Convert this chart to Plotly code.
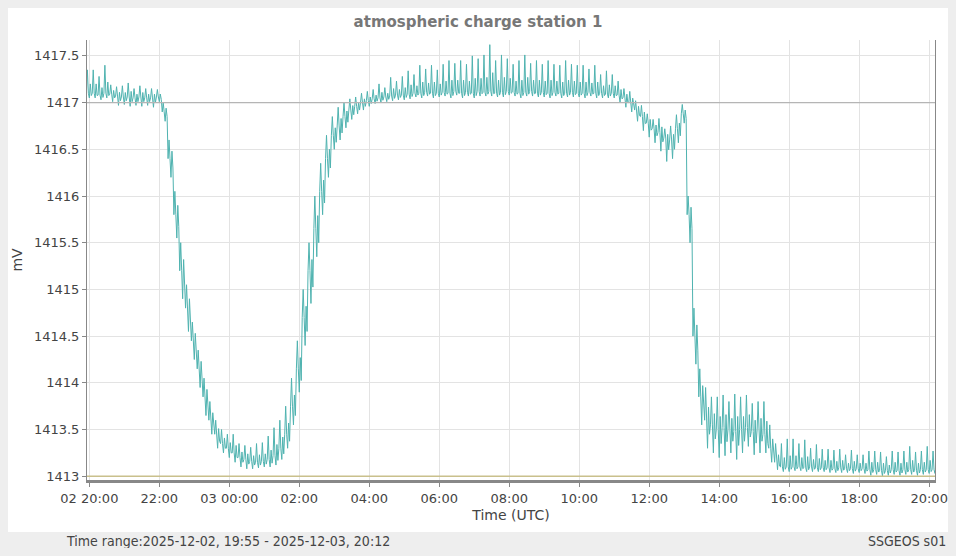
import pandas as pd
import plotly.graph_objects as go

# ===================== 数据 =====================
START = "2025-12-02 19:55"
# 每10分钟一个基准值 (19:55 起)
base_mv = (
    [1417.1]
    + [1417.1, 1417.08, 1417.1, 1417.09, 1417.07, 1417.06]          # 20h
    + [1417.06, 1417.05, 1417.06, 1417.05, 1417.05, 1417.06]        # 21h
    + [1416.9, 1416.4, 1415.8, 1415.2, 1414.8, 1414.45]             # 22h
    + [1414.15, 1413.85, 1413.6, 1413.45, 1413.35, 1413.3]          # 23h
    + [1413.25, 1413.2, 1413.18, 1413.16, 1413.15, 1413.16]         # 00h
    + [1413.18, 1413.22, 1413.3, 1413.45, 1413.75, 1414.15]         # 01h
    + [1414.7, 1415.2, 1415.65, 1416.05, 1416.4, 1416.65]           # 02h
    + [1416.75, 1416.85, 1416.92, 1416.96, 1417.0, 1417.02]         # 03h
    + [1417.04, 1417.05, 1417.06, 1417.07, 1417.08, 1417.08]        # 04h
    + [1417.09, 1417.1, 1417.1, 1417.11, 1417.1, 1417.1]            # 05h
    + [1417.11, 1417.1, 1417.12, 1417.1, 1417.11, 1417.1]           # 06h
    + [1417.12, 1417.11, 1417.12, 1417.1, 1417.11, 1417.12]         # 07h
    + [1417.11, 1417.1, 1417.11, 1417.12, 1417.1, 1417.11]          # 08h
    + [1417.1, 1417.11, 1417.1, 1417.1, 1417.11, 1417.1]            # 09h
    + [1417.1, 1417.11, 1417.1, 1417.1, 1417.09, 1417.1]            # 10h
    + [1417.08, 1417.05, 1417.0, 1416.92, 1416.85, 1416.78]         # 11h
    + [1416.72, 1416.68, 1416.62, 1416.6, 1416.72, 1416.88]         # 12h
    + [1415.8, 1414.5, 1413.85, 1413.6, 1413.55, 1413.5]            # 13h
    + [1413.52, 1413.5, 1413.48, 1413.5, 1413.52, 1413.48]          # 14h
    + [1413.5, 1413.45, 1413.3, 1413.15, 1413.1, 1413.1]            # 15h
    + [1413.1, 1413.1, 1413.09, 1413.1, 1413.09, 1413.09]           # 16h
    + [1413.09, 1413.08, 1413.09, 1413.08, 1413.08, 1413.08]        # 17h
    + [1413.08, 1413.07, 1413.07, 1413.06, 1413.06, 1413.07]        # 18h
    + [1413.06, 1413.07, 1413.07, 1413.06, 1413.07, 1413.07]        # 19h
    + [1413.07]
)
# 向上尖峰幅度
up_mv = (
    [0.25]
    + [0.25, 0.2, 0.3, 0.1, 0.1, 0.12]
    + [0.15, 0.1, 0.12, 0.1, 0.1, 0.08]
    + [0.1, 0.2, 0.25, 0.3, 0.25, 0.2]
    + [0.2, 0.2, 0.2, 0.15, 0.15, 0.15]
    + [0.2, 0.15, 0.15, 0.15, 0.2, 0.2]
    + [0.25, 0.3, 0.3, 0.3, 0.3, 0.3]
    + [0.3, 0.3, 0.35, 0.3, 0.25, 0.2]
    + [0.2, 0.15, 0.12, 0.1, 0.1, 0.1]
    + [0.1, 0.15, 0.1, 0.2, 0.15, 0.2]
    + [0.25, 0.2, 0.3, 0.25, 0.3, 0.25]
    + [0.3, 0.35, 0.3, 0.35, 0.3, 0.4]
    + [0.35, 0.4, 0.5, 0.35, 0.4, 0.35]
    + [0.3, 0.35, 0.4, 0.3, 0.35, 0.3]
    + [0.35, 0.3, 0.3, 0.35, 0.3, 0.3]
    + [0.3, 0.25, 0.3, 0.2, 0.25, 0.2]
    + [0.15, 0.1, 0.12, 0.1, 0.12, 0.1]
    + [0.1, 0.15, 0.1, 0.15, 0.15, 0.1]
    + [0.2, 0.3, 0.3, 0.35, 0.3, 0.35]
    + [0.35, 0.3, 0.4, 0.35, 0.35, 0.3]
    + [0.3, 0.35, 0.25, 0.2, 0.25, 0.3]
    + [0.3, 0.25, 0.3, 0.2, 0.25, 0.2]
    + [0.2, 0.2, 0.2, 0.15, 0.2, 0.15]
    + [0.15, 0.2, 0.2, 0.2, 0.15, 0.2]
    + [0.2, 0.2, 0.25, 0.2, 0.2, 0.25]
    + [0.2]
)
# 向下尖峰幅度
down_mv = (
    [0.05]
    + [0.05, 0.05, 0.05, 0.08, 0.1, 0.08]
    + [0.1, 0.08, 0.1, 0.08, 0.1, 0.05]
    + [0.1, 0.2, 0.25, 0.3, 0.25, 0.2]
    + [0.2, 0.2, 0.15, 0.15, 0.1, 0.1]
    + [0.1, 0.1, 0.1, 0.08, 0.06, 0.06]
    + [0.08, 0.1, 0.12, 0.15, 0.2, 0.25]
    + [0.3, 0.35, 0.3, 0.25, 0.2, 0.15]
    + [0.15, 0.12, 0.1, 0.08, 0.08, 0.06]
    + [0.05, 0.05, 0.05, 0.05, 0.05, 0.05]
    + [0.05, 0.04, 0.05, 0.04, 0.05, 0.04]
    + [0.04, 0.05, 0.04, 0.05, 0.04, 0.05]
    + [0.05, 0.04, 0.05, 0.04, 0.05, 0.04]
    + [0.04, 0.05, 0.04, 0.05, 0.04, 0.05]
    + [0.05, 0.04, 0.05, 0.04, 0.05, 0.04]
    + [0.05, 0.04, 0.05, 0.05, 0.04, 0.05]
    + [0.08, 0.1, 0.1, 0.12, 0.15, 0.15]
    + [0.15, 0.2, 0.25, 0.2, 0.15, 0.1]
    + [0.3, 0.3, 0.3, 0.3, 0.3, 0.3]
    + [0.3, 0.25, 0.3, 0.25, 0.2, 0.25]
    + [0.25, 0.2, 0.15, 0.08, 0.05, 0.05]
    + [0.04, 0.04, 0.04, 0.05, 0.04, 0.04]
    + [0.05, 0.04, 0.05, 0.04, 0.05, 0.04]
    + [0.05, 0.06, 0.05, 0.06, 0.05, 0.05]
    + [0.05, 0.05, 0.05, 0.05, 0.05, 0.04]
    + [0.04]
)

tick_vals = ["2025-12-02 20:00", "2025-12-02 22:00", "2025-12-03 00:00", "2025-12-03 02:00",
             "2025-12-03 04:00", "2025-12-03 06:00", "2025-12-03 08:00", "2025-12-03 10:00",
             "2025-12-03 12:00", "2025-12-03 14:00", "2025-12-03 16:00", "2025-12-03 18:00",
             "2025-12-03 20:00"]
tick_text = ["02 20:00", "22:00", "03 00:00", "02:00", "04:00", "06:00", "08:00", "10:00",
             "12:00", "14:00", "16:00", "18:00", "20:00"]
y_ticks = [1413, 1413.5, 1414, 1414.5, 1415, 1415.5, 1416, 1416.5, 1417, 1417.5]
y_labels = ["1413", "1413.5", "1414", "1414.5", "1415", "1415.5", "1416", "1416.5", "1417", "1417.5"]

# ===================== 构造噪声折线 =====================
t0 = pd.Timestamp(START)
xs, ys = [], []
for i, b in enumerate(base_mv):
    t = t0 + pd.Timedelta(minutes=10 * i)
    sub = [b, b + up_mv[i], b, b - down_mv[i], b + up_mv[i] * 0.4, b - down_mv[i] * 0.5]
    for k, v in enumerate(sub):
        xs.append(t + pd.Timedelta(seconds=100 * k))
        ys.append(v)

fig = go.Figure()
fig.add_trace(go.Scatter(x=xs, y=ys, mode="lines", line=dict(color="#4fb3b0", width=1),
                         showlegend=False))

FONT = "DejaVu Sans"
fig.update_layout(
    width=940, height=540,
    paper_bgcolor="#eeeeee", plot_bgcolor="white",
    margin=dict(l=79, r=13, t=32, b=68, autoexpand=False),
    font=dict(family=FONT, size=13, color="#444"),
    title=dict(text="<b>atmospheric charge station 1</b>", x=0.5, xanchor="center",
               y=1 - 14 / 540, yanchor="middle", font=dict(size=15, color="#777")),
    shapes=[
        dict(type="rect", xref="paper", yref="paper", layer="below",
             x0=-79 / 848, x1=1 + 13 / 848, y0=-52 / 440, y1=1 + 32 / 440,
             fillcolor="white", line=dict(width=0)),
        dict(type="line", xref="paper", yref="y", x0=0, x1=1, y0=1417, y1=1417,
             line=dict(color="#b5b5b5", width=1.2)),
        dict(type="line", xref="paper", yref="y", x0=0, x1=1, y0=1413, y1=1413,
             line=dict(color="#c9c08c", width=1.5)),
    ],
    annotations=[
        dict(text="Time range:2025-12-02, 19:55 - 2025-12-03, 20:12", xref="paper", yref="paper",
             x=-23 / 848, y=-61 / 440, xanchor="left", yanchor="middle", showarrow=False,
             font=dict(size=14, color="#444", family="DejaVu Sans Condensed")),
        dict(text="SSGEOS s01", xref="paper", yref="paper", x=1 + 13 / 848, y=-61 / 440,
             xanchor="right", yanchor="middle", showarrow=False,
             font=dict(size=14, color="#444", family="DejaVu Sans Condensed")),
    ],
)
fig.update_xaxes(
    range=["2025-12-02 19:56", "2025-12-03 20:10"], automargin=False,
    tickvals=tick_vals, ticktext=tick_text, ticks="outside", ticklen=4, tickcolor="#888",
    showgrid=True, gridcolor="#e3e3e3", showline=True, linecolor="#888", linewidth=3,
    mirror=False, zeroline=False,
    title=dict(text="Time (UTC)", font=dict(size=14), standoff=6),
)
fig.update_yaxes(
    range=[1412.96, 1417.67], automargin=False, tickvals=y_ticks, ticktext=y_labels,
    ticks="outside", ticklen=4, tickcolor="#888",
    showgrid=True, gridcolor="#e3e3e3", showline=True, linecolor="#888", linewidth=1,
    mirror=True, zeroline=False,
    title=dict(text="mV", font=dict(size=14), standoff=8),
)

fig.write_html("out.html", post_script="document.body.style.background='#eeeeee';")
